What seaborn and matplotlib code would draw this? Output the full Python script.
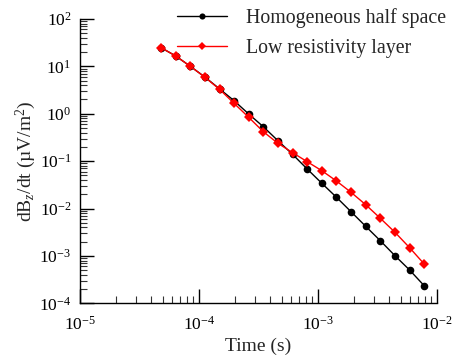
import matplotlib
matplotlib.use("Agg")
import matplotlib.pyplot as plt
import seaborn as sns
import numpy as np
import pandas as pd
from matplotlib.ticker import LogLocator, NullFormatter

# ---- data ----
time_s = [4.82e-5, 6.40e-5, 8.49e-5, 1.127e-4, 1.496e-4, 1.98e-4, 2.63e-4,
          3.49e-4, 4.63e-4, 6.15e-4, 8.16e-4, 1.083e-3, 1.438e-3, 1.905e-3,
          2.53e-3, 3.36e-3, 4.46e-3, 5.92e-3, 7.85e-3]
homogeneous = [24.8, 16.6, 10.05, 5.95, 3.35, 1.89, 0.989, 0.533, 0.270,
               0.139, 0.0682, 0.0341, 0.01725, 0.00857, 0.00422, 0.00209,
               0.00101, 0.000504, 0.000235]
low_res = [24.8, 16.6, 10.05, 5.89, 3.28, 1.66, 0.842, 0.418, 0.238, 0.151,
           0.0973, 0.0628, 0.0381, 0.0220, 0.01205, 0.00622, 0.00315,
           0.00149, 0.000675]
series_names = ["Homogeneous half space", "Low resistivity layer"]
x_ticks = [1e-5, 1e-4, 1e-3, 1e-2]
y_ticks = [1e-4, 1e-3, 1e-2, 1e-1, 1e0, 1e1, 1e2]

sns.set_style("ticks")
plt.rcParams["font.family"] = ["Liberation Serif", "DejaVu Serif"]
plt.rcParams["mathtext.fontset"] = "custom"
plt.rcParams["mathtext.rm"] = "Liberation Serif"
plt.rcParams["mathtext.it"] = "Liberation Serif:italic"
plt.rcParams["mathtext.bf"] = "Liberation Serif:bold"
plt.rcParams["axes.unicode_minus"] = False

fig = plt.figure(figsize=(4.53, 3.58), dpi=100)
ax = fig.add_axes([0.176, 0.1528, 0.788, 0.7942])

df = pd.DataFrame({
    "t": time_s * 2,
    "v": homogeneous + low_res,
    "series": [series_names[0]] * len(time_s) + [series_names[1]] * len(time_s),
})

sns.lineplot(data=df[df.series == series_names[0]], x="t", y="v", ax=ax,
             color="black", marker="o", markersize=5.5, markeredgewidth=0,
             linewidth=1.0, label=series_names[0])
sns.lineplot(data=df[df.series == series_names[1]], x="t", y="v", ax=ax,
             color="red", marker="D", markersize=5, markeredgewidth=0,
             linewidth=1.0, label=series_names[1])

ax.set_xscale("log")
ax.set_yscale("log")
ax.set_xlim(1e-5, 1e-2)
ax.set_ylim(1e-4, 1e2)
ax.set_xticks(x_ticks)
ax.set_yticks(y_ticks)
ax.xaxis.set_minor_locator(LogLocator(base=10, subs=np.arange(2, 10), numticks=20))
ax.yaxis.set_minor_locator(LogLocator(base=10, subs=np.arange(2, 10), numticks=20))
ax.xaxis.set_minor_formatter(NullFormatter())
ax.yaxis.set_minor_formatter(NullFormatter())

for side in ["top", "right"]:
    ax.spines[side].set_visible(False)
for side in ["left", "bottom"]:
    ax.spines[side].set_linewidth(1.0)
    ax.spines[side].set_color("black")

ax.tick_params(which="major", direction="in", length=10, width=1.0,
               labelsize=12.5, colors="black")
ax.tick_params(axis="x", which="major", pad=9)
ax.tick_params(axis="y", which="major", pad=6)
ax.tick_params(which="minor", direction="in", length=5, width=0.8, colors="#333333")

ax.set_xlabel("Time (s)", fontsize=14, labelpad=3)
ax.set_ylabel(r"dB$_{z}$/dt (µV/m$^{2}$)", fontsize=14, labelpad=1)

leg = ax.legend(loc="upper right", bbox_to_anchor=(1.05, 1.065), frameon=False,
                fontsize=14.3, handlelength=2.5, handletextpad=1.0,
                labelspacing=0.55, markerscale=0.8, borderaxespad=0)

fig.savefig("out.png", dpi=100)
